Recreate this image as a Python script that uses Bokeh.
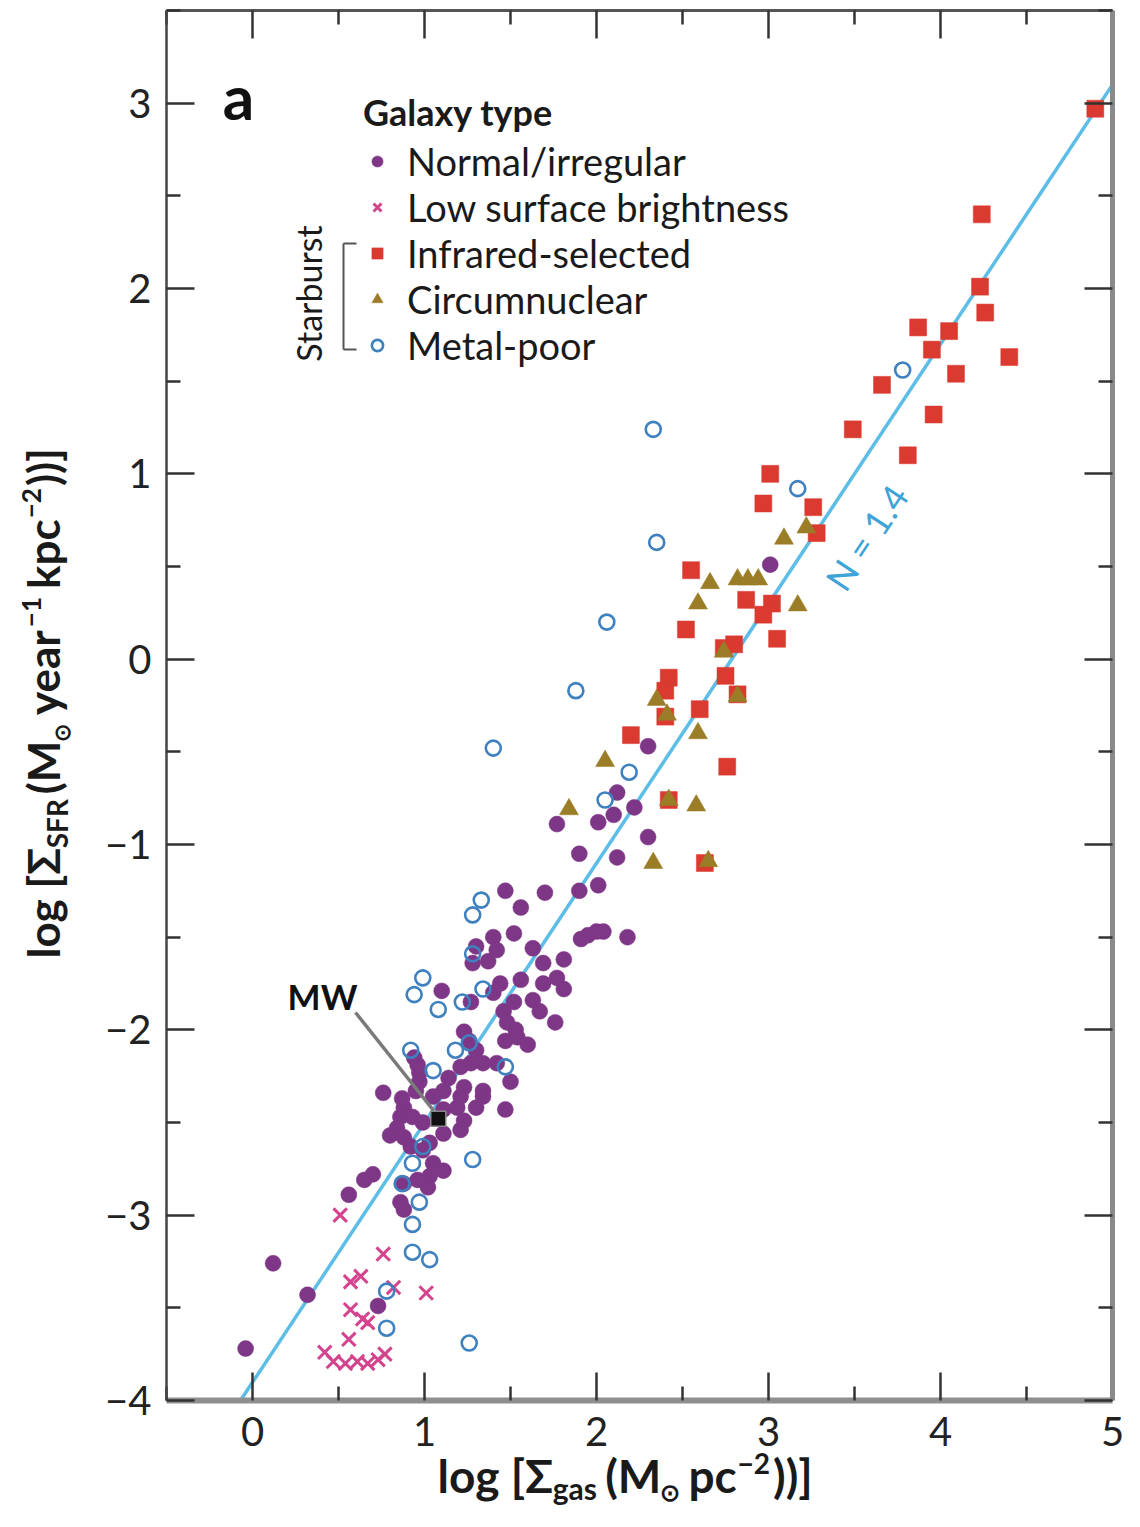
import math
from bokeh.plotting import figure
from bokeh.models import (Range1d, LinearAxis, FixedTicker, Label, Legend, LegendItem, Arrow)
from bokeh.embed import file_html
from bokeh.resources import INLINE

FONT = "Lato"

# ---------------- data ----------------
NORMAL_X = [2.30, 2.12, 2.22, 2.10, 2.01, 1.77, 2.30, 1.90, 2.12, 2.01, 1.90, 1.70, 1.47, 1.56,
            2.18, 1.91, 1.95, 2.00, 2.04, 1.52, 1.40, 1.30, 1.42, 1.63, 1.37, 1.28, 1.69, 1.81,
            1.56, 1.44, 1.69, 1.77, 1.81, 1.10, 1.40, 1.52, 1.63, 1.67, 1.46, 1.27, 1.76, 1.48,
            1.53, 1.47, 1.60, 1.54, 1.23, 1.30, 1.34, 1.21, 1.42, 0.94, 0.97, 1.27, 1.23, 1.34,
            1.30, 1.23, 1.21, 1.11, 1.05, 1.14, 1.50, 1.47, 0.96, 0.97, 0.95, 0.76, 0.87, 0.88,
            0.86, 0.93, 0.99, 0.84, 0.80, 0.88, 0.92, 1.03, 1.11, 1.05, 1.11, 1.03, 0.96, 0.88,
            1.02, 0.86, 0.88, 0.99, 1.11, 1.19, 1.21, 1.34, 1.26, 3.01, -0.04, 0.12, 0.32, 0.56,
            0.65, 0.70, 0.73]
NORMAL_Y = [-0.47, -0.72, -0.80, -0.84, -0.88, -0.89, -0.96, -1.05, -1.07, -1.22, -1.25, -1.26,
            -1.25, -1.34, -1.50, -1.51, -1.49, -1.47, -1.47, -1.48, -1.50, -1.55, -1.57, -1.56,
            -1.63, -1.64, -1.64, -1.62, -1.73, -1.75, -1.75, -1.72, -1.78, -1.79, -1.80, -1.85,
            -1.84, -1.90, -1.90, -1.85, -1.96, -1.96, -2.00, -2.06, -2.08, -2.04, -2.01, -2.11,
            -2.18, -2.20, -2.18, -2.15, -2.23, -2.18, -2.31, -2.33, -2.42, -2.49, -2.54, -2.33,
            -2.36, -2.26, -2.28, -2.43, -2.19, -2.28, -2.33, -2.34, -2.37, -2.42, -2.47, -2.47,
            -2.50, -2.53, -2.57, -2.58, -2.63, -2.61, -2.56, -2.72, -2.76, -2.79, -2.81, -2.83,
            -2.85, -2.93, -2.97, -2.65, -2.43, -2.42, -2.36, -2.36, -2.06, 0.51, -3.72, -3.26,
            -3.43, -2.89, -2.81, -2.78, -3.49]

LSB_X = [0.51, 0.76, 0.63, 0.57, 0.82, 1.01, 0.57, 0.67, 0.56, 0.42, 0.47, 0.54, 0.67, 0.73,
         0.77, 0.61, 0.64]
LSB_Y = [-3.00, -3.21, -3.33, -3.36, -3.39, -3.42, -3.51, -3.58, -3.67, -3.74, -3.79, -3.80,
         -3.80, -3.78, -3.75, -3.79, -3.56]

IR_X = [4.90, 4.24, 4.23, 4.26, 3.87, 4.05, 3.95, 4.40, 4.09, 3.66, 3.96, 3.49, 3.81, 3.01,
        2.97, 3.26, 3.28, 2.55, 2.87, 3.02, 2.97, 2.52, 3.05, 2.80, 2.74, 2.75, 2.42, 2.40,
        2.40, 2.60, 2.20, 2.76, 2.42, 2.63, 2.82]
IR_Y = [2.97, 2.40, 2.01, 1.87, 1.79, 1.77, 1.67, 1.63, 1.54, 1.48, 1.32, 1.24, 1.10, 1.00,
        0.84, 0.82, 0.68, 0.48, 0.32, 0.30, 0.24, 0.16, 0.11, 0.08, 0.06, -0.09, -0.10, -0.17,
        -0.31, -0.27, -0.41, -0.58, -0.76, -1.10, -0.19]

CN_X = [3.09, 3.22, 2.66, 2.82, 2.88, 2.94, 3.17, 2.59, 2.74, 2.35, 2.41, 2.82, 2.59, 2.05,
        2.42, 2.58, 2.33, 2.65, 1.84]
CN_Y = [0.65, 0.71, 0.41, 0.43, 0.43, 0.43, 0.29, 0.30, 0.04, -0.22, -0.30, -0.20, -0.40,
        -0.55, -0.76, -0.79, -1.10, -1.09, -0.81]

MP_X = [2.33, 2.35, 2.06, 1.88, 1.40, 3.78, 3.17, 2.19, 2.05, 1.33, 1.28, 1.28, 0.99, 0.94,
        1.08, 1.34, 1.22, 0.92, 1.18, 1.26, 1.47, 1.05, 1.28, 0.99, 0.93, 0.87, 0.97, 0.93,
        0.93, 1.03, 0.78, 0.78, 1.26]
MP_Y = [1.24, 0.63, 0.20, -0.17, -0.48, 1.56, 0.92, -0.61, -0.76, -1.30, -1.38, -1.59, -1.72,
        -1.81, -1.89, -1.78, -1.85, -2.11, -2.11, -2.07, -2.20, -2.22, -2.70, -2.63, -2.72,
        -2.83, -2.93, -3.05, -3.20, -3.24, -3.41, -3.61, -3.69]

MW_X = [1.08]
MW_Y = [-2.48]

FIT_X = [-0.07, 5.0]
FIT_Y = [-4.0, 3.1]

X_LIM = (-0.5, 5.0)
Y_LIM = (-4.0, 3.5)
X_TICKS = [0, 1, 2, 3, 4, 5]
X_TICK_LABELS = ["0", "1", "2", "3", "4", "5"]
Y_TICKS = [-4, -3, -2, -1, 0, 1, 2, 3]
Y_TICK_LABELS = ["\u22124", "\u22123", "\u22122", "\u22121", "0", "1", "2", "3"]

LEGEND_TITLE = "Galaxy type"
LEGEND_LABELS = ["Normal/irregular", "Low surface brightness", "Infrared-selected",
                 "Circumnuclear", "Metal-poor"]

# ---------------- colours ----------------
C_NORMAL = "#7e3786"
C_LSB = "#d4438d"
C_IR = "#db3a31"
C_CN = "#9a7d26"
C_MP = "#3f80bf"
C_FIT = "#5cbde6"

# ---------------- page geometry ----------------
W_FIG, H_FIG = 1124, 1511
PX0, PXU = 252.0, 172.0      # page x of data x=0, px per unit
PYTOP, PYU = 10.0, 185.33    # page y of y=3.5, px per unit


def X(px):
    return (px - PX0) / PXU


def Y(py):
    return Y_LIM[1] - (py - PYTOP) / PYU


p = figure(width=W_FIG, height=H_FIG,
           x_range=Range1d(X(0), X(W_FIG)), y_range=Range1d(Y(H_FIG), Y(0)),
           output_backend="svg", toolbar_location=None,
           min_border_left=0, min_border_right=0, min_border_top=0, min_border_bottom=0,
           x_axis_type=None, y_axis_type=None, outline_line_color=None,
           background_fill_color="white", border_fill_color="white")
p.grid.visible = False

X_MINOR = [X_LIM[0]] + [t + 0.5 for t in X_TICKS[:-1]]
Y_MINOR = [t + 0.5 for t in Y_TICKS]


def tick_style(ax, tin, line_color, line_width):
    ax.axis_line_color = line_color
    ax.axis_line_width = line_width
    ax.major_tick_out = 0
    ax.minor_tick_out = 0
    ax.major_tick_in = 28
    ax.minor_tick_in = tin
    for a in ("major_tick_line", "minor_tick_line"):
        setattr(ax, a + "_color", "#333333")
        setattr(ax, a + "_width", 2.5)


# bottom axis (labels)
ax_b = LinearAxis(fixed_location=Y_LIM[0], bounds=X_LIM,
                  ticker=FixedTicker(ticks=X_TICKS, minor_ticks=X_MINOR))
tick_style(ax_b, 14, "#8f8f8f", 6)
ax_b.major_label_overrides = {t: s for t, s in zip(X_TICKS, X_TICK_LABELS)}
ax_b.major_label_text_font = FONT
ax_b.major_label_text_font_size = "40px"
ax_b.major_label_text_color = "#222222"
ax_b.major_label_standoff = 17
p.add_layout(ax_b, "below")

# left axis (labels)
ax_l = LinearAxis(fixed_location=X_LIM[0], bounds=Y_LIM,
                  ticker=FixedTicker(ticks=Y_TICKS, minor_ticks=Y_MINOR))
tick_style(ax_l, 14, "#444444", 2.5)
ax_l.major_label_overrides = {t: s for t, s in zip(Y_TICKS, Y_TICK_LABELS)}
ax_l.major_label_text_font = FONT
ax_l.major_label_text_font_size = "40px"
ax_l.major_label_text_color = "#222222"
ax_l.major_label_standoff = 15
p.add_layout(ax_l, "left")

# top and right axes: tick marks only (no labels)
for place, loc, bnds, majors, minors, col, lw in [
        ("above", Y_LIM[1], X_LIM, X_TICKS, X_MINOR, "#555555", 3),
        ("right", X_LIM[1], Y_LIM, Y_TICKS, Y_MINOR, "#8a8a8a", 5)]:
    a1 = LinearAxis(fixed_location=loc, bounds=bnds,
                    ticker=FixedTicker(ticks=[], minor_ticks=majors))
    tick_style(a1, 28, col, lw)
    p.add_layout(a1, place)
    a2 = LinearAxis(fixed_location=loc, bounds=bnds,
                    ticker=FixedTicker(ticks=[], minor_ticks=minors))
    tick_style(a2, 14, None, 0)
    p.add_layout(a2, place)

# ---------------- marks ----------------
p.line(FIT_X, FIT_Y, line_color=C_FIT, line_width=3.5)

r_norm = p.scatter(NORMAL_X, NORMAL_Y, marker="circle", size=16, fill_color=C_NORMAL,
                   line_color=C_NORMAL, line_width=0.5)
r_lsb = p.scatter(LSB_X, LSB_Y, marker="x", size=19, line_color=C_LSB, line_width=3)
r_ir = p.scatter(IR_X, IR_Y, marker="square", size=17, fill_color=C_IR, line_color=C_IR,
                 line_width=0.5)
r_cn = p.scatter(CN_X, CN_Y, marker="triangle", size=19, fill_color=C_CN, line_color=C_CN,
                 line_width=0.5)
r_mp = p.scatter(MP_X, MP_Y, marker="circle", size=15, fill_color=None, line_color=C_MP,
                 line_width=2.6)
p.scatter(MW_X, MW_Y, marker="square", size=15, fill_color="#111111", line_color="#888888",
          line_width=1.5)

# MW pointer
p.add_layout(Arrow(end=None, x_start=X(355), y_start=Y(1012), x_end=X(433), y_end=Y(1110),
                   line_color="#7a7a7a", line_width=3.5))


def lab(x, y, text, size, bold=False, color="#1a1a1a", angle=0.0, align="left",
        baseline="middle"):
    p.add_layout(Label(x=x, y=y, text=text, text_font=FONT, text_font_size=f"{size}px",
                       text_font_style="bold" if bold else "normal", text_color=color,
                       angle=angle, text_align=align, text_baseline=baseline))


# panel letter, MW, slope annotation
lab(X(238), Y(95), "a", 62, bold=True, color="#111111", align="center")
lab(X(322), Y(995), "MW", 35, bold=True, color="#111111", align="center")
lab(X(866), Y(537), "N = 1.4", 36, color="#3ea3d6",
    angle=math.atan2(1.4 * PYU, PXU), align="center")

# ---------------- legend ----------------
legend = Legend(items=[LegendItem(label=LEGEND_LABELS[0], renderers=[r_norm]),
                       LegendItem(label=LEGEND_LABELS[1], renderers=[r_lsb]),
                       LegendItem(label=LEGEND_LABELS[2], renderers=[r_ir]),
                       LegendItem(label=LEGEND_LABELS[3], renderers=[r_cn]),
                       LegendItem(label=LEGEND_LABELS[4], renderers=[r_mp])],
                location=(363, H_FIG - 368), title=LEGEND_TITLE,
                title_text_font=FONT, title_text_font_size="36px", title_text_font_style="bold",
                title_text_color="#1a1a1a", title_standoff=4,
                label_text_font=FONT, label_text_font_size="38px", label_text_color="#1a1a1a",
                glyph_width=28, glyph_height=28, label_height=30, label_standoff=16, spacing=0,
                padding=0, margin=0, border_line_color=None, background_fill_alpha=0)
p.add_layout(legend)

# Starburst bracket
for xs, ys, xe, ye in [(343, 243, 343, 349), (343, 243, 356, 243), (343, 349, 356, 349)]:
    p.add_layout(Arrow(end=None, x_start=X(xs), y_start=Y(ys), x_end=X(xe), y_end=Y(ye),
                       line_color="#555555", line_width=2))
lab(X(308), Y(293), "Starburst", 34, angle=math.pi / 2, align="center")

# ---------------- axis titles (composed from pieces) ----------------
EM = {'l': .265, 'o': .58, 'g': .53, ' ': .2, '[': .31, ']': .31, '\u03a3': .62, '(': .31,
      ')': .31, 'M': .89, '\u2299': .84, 'p': .575, 'c': .47, '\u2212': .58, '2': .58,
      '1': .58, 'a': .52, 's': .43, 'S': .52, 'F': .52, 'R': .6, 'y': .53, 'e': .54,
      'r': .385, 'k': .54}
K = 0.33  # distance from box middle to baseline, in em


def compose(pieces, start, base, vertical):
    """pieces: (text, font size, baseline shift, gap after)"""
    pos = start
    for text, size, shift, gap in pieces:
        w = sum(EM.get(ch, .55) for ch in text) * size
        b = base + shift
        if vertical:
            lab(X(b - K * size), Y(pos), text, size, bold=True, angle=math.pi / 2)
            pos -= w + gap
        else:
            lab(X(pos), Y(b - K * size), text, size, bold=True)
            pos += w + gap


compose([("log [\u03a3", 46, 0, 0), ("gas", 30, 7, 8), ("(M", 46, 0, 0),
         ("\u2299", 24, 9, 8), ("pc", 46, 0, 1), ("\u22122", 28, -18, 3),
         ("))]", 46, 0, 0)],
        437, 1490, vertical=False)
compose([("log [\u03a3", 44, 0, 0), ("SFR", 28, 9, 8), ("(M", 44, 0, 0),
         ("\u2299", 22, 11, 8), ("year", 44, 0, 1), ("\u22121", 26, -17, 8),
         ("kpc", 44, 0, 1), ("\u22122", 26, -17, 2), ("))]", 44, 0, 0)],
        958, 57, vertical=True)

open("out.html", "w").write(file_html(p, INLINE))
